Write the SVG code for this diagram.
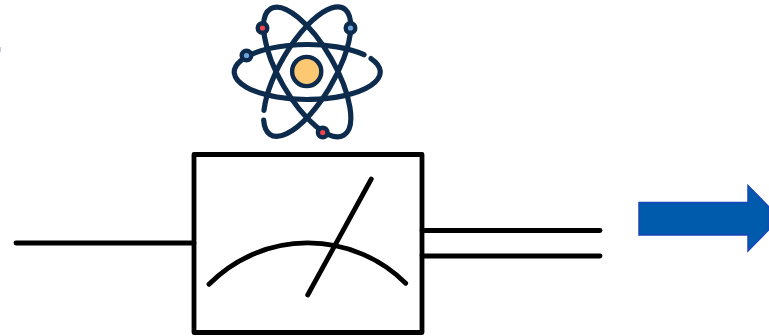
<svg xmlns="http://www.w3.org/2000/svg" width="769" height="336" viewBox="0 0 769 336">
<style>
.k{fill:none;stroke:#000;stroke-width:4.800;stroke-linecap:round}
.o{fill:none;stroke:#0d2c4d;stroke-width:5.200;stroke-linecap:round}
.e{stroke:#0d2c4d;stroke-width:4.400}
</style>
<rect width="769" height="336" fill="#fff"/>
<rect x="0" y="47" width="1" height="5" fill="#c9c6de"/>
<g id="connectors">
<path class="k" d="M16 243H194"/>
<path class="k" d="M422 230.500H600"/>
<path class="k" d="M422 256H600"/>
</g>
<g id="atom">
<path class="o" d="M371 58.600A73 27.500 0 1 1 364 54.700"/>
<ellipse class="o" cx="307.200" cy="72" rx="73" ry="27.500" transform="rotate(60 307.200 72)"/>
<path class="o" d="M263.700 120.200A73 27.500 -60 1 0 264 110.300"/>
<circle class="e" cx="306.700" cy="71.500" r="14.600" fill="#fdc872"/>
<circle class="e" cx="262.500" cy="28" r="4.800" fill="#f0444f"/>
<circle class="e" cx="350.500" cy="28" r="4.800" fill="#6ca4dc"/>
<circle class="e" cx="246.500" cy="55.500" r="4.800" fill="#6ca4dc"/>
<circle class="e" cx="322.700" cy="132.500" r="4.800" fill="#f0444f"/>
</g>
<g id="meter">
<rect class="k" x="194" y="154.500" width="228" height="178" stroke-linejoin="round"/>
<path class="k" d="M209 284.300A138.800 138.800 0 0 1 405.700 283.300"/>
<path class="k" d="M307.700 295L371.300 179"/>
</g>
<g id="arrow">
<path d="M639 202.500H748V185.500L769 207V229.500L748 251V235H639Z" fill="#005bac" stroke="#1a45b8" stroke-width="1.500"/>
</g>
</svg>
